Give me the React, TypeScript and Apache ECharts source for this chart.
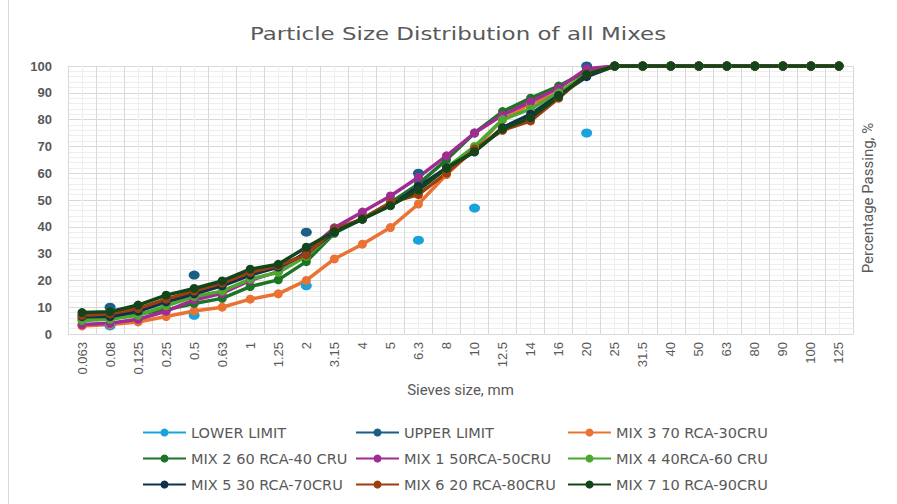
import React, { useEffect, useRef } from "react";
import * as echarts from "echarts";

const sieves = ["0.063","0.08","0.125","0.25","0.5","0.63","1","1.25","2","3.15","4","5","6.3","8","10","12.5","14","16","20","25","31.5","40","50","63","80","90","100","125"];

const lowerLimit = [null,3,null,null,7,null,null,null,18,null,null,null,35,null,47,null,null,null,75,null,null,null,null,null,null,null,null,null];
const upperLimit = [null,10,null,null,22,null,null,null,38,null,null,null,60,null,null,null,null,null,100,null,null,null,null,null,null,null,null,null];
const mix3 = [3,3.5,4.5,6.5,8.6,10,13,15,20,28,33.5,39.7,48.5,59.5,69,80,86,90,97,100,100,100,100,100,100,100,100,100];
const mix2 = [5.5,6,7.5,9,11.4,13.3,17.7,20.2,27,37.6,43,49,56,65,75,83,88,92.5,98,100,100,100,100,100,100,100,100,100];
const mix1 = [3.5,4,5.5,8.5,12.7,15.2,20,23.3,30.7,39.6,45.5,51.5,58.5,66.5,75,81.7,86.7,91.7,99,100,100,100,100,100,100,100,100,100];
const mix4 = [5,5.5,7,10.5,14,16,20.5,23,29,38,43,48,54,62,70,80,84,90,97,100,100,100,100,100,100,100,100,100];
const mix5 = [6.5,6.5,8.5,12,15,18,22,25,30,38,43,48,55,62,68,77,82,89,96,100,100,100,100,100,100,100,100,100];
const mix6 = [7,7.5,9.5,13,16,19,23,25.5,29.5,39,43,49,52,60,69,76,79.5,88,97,100,100,100,100,100,100,100,100,100];
const mix7 = [8,8.3,10.8,14.5,17,19.8,24.2,26,32.4,38.2,42.8,47.9,53.7,61.8,68,76.5,80.7,88.6,96.9,100,100,100,100,100,100,100,100,100];

const seriesDefs = [
  { name: "LOWER LIMIT", data: lowerLimit, color: "#1aa3db", limit: true },
  { name: "UPPER LIMIT", data: upperLimit, color: "#1b5f86", limit: true },
  { name: "MIX 3 70 RCA-30CRU", data: mix3, color: "#ea7233" },
  { name: "MIX 2 60 RCA-40 CRU", data: mix2, color: "#1d7326" },
  { name: "MIX 1 50RCA-50CRU", data: mix1, color: "#a02b93" },
  { name: "MIX 4 40RCA-60 CRU", data: mix4, color: "#4ea72e" },
  { name: "MIX 5 30 RCA-70CRU", data: mix5, color: "#12304c" },
  { name: "MIX 6 20 RCA-80CRU", data: mix6, color: "#9c3f10" },
  { name: "MIX 7 10 RCA-90CRU", data: mix7, color: "#12461a" },
];

const legendCols = [142, 355, 567];
const legendRows = [425, 451, 477];

export default function App() {
  const ref = useRef<HTMLDivElement>(null);
  useEffect(() => {
    if (!ref.current) return;
    const chart = echarts.init(ref.current, null, { renderer: "svg" });
    const textColor = "#595959";
    const legends = seriesDefs.map((s, i) => ({
      data: [s.name],
      left: legendCols[i % 3],
      top: legendRows[Math.floor(i / 3)],
      itemWidth: 43,
      itemHeight: 10,
      itemGap: 0,
      padding: 0,
      selectedMode: false,
      textStyle: { color: textColor, fontSize: 14.5, fontFamily: "DejaVu Sans", fontWeight: "normal" },
    }));
    chart.setOption({
      animation: false,
      backgroundColor: "#ffffff",
      legend: legends,
      grid: { left: 68, right: 44, top: 66, bottom: 170, containLabel: false },
      xAxis: [
        {
          type: "category",
          data: sieves,
          boundaryGap: true,
          name: "Sieves size, mm",
          nameLocation: "middle",
          nameGap: 44,
          nameTextStyle: { color: textColor, fontSize: 15, fontFamily: "Roboto" },
          axisLine: { show: true, lineStyle: { color: "#d9d9d9" } },
          axisTick: { show: false },
          axisLabel: { interval: 0, rotate: 90, color: textColor, fontSize: 13, fontFamily: "Liberation Sans", margin: 8 },
          splitLine: { show: true, lineStyle: { color: "#d9d9d9", width: 1 } },
          z: 3,
        },
        {
          type: "value",
          min: 0,
          max: 28,
          interval: 0.5,
          show: true,
          axisLine: { show: false },
          axisTick: { show: false },
          axisLabel: { show: false },
          splitLine: { show: true, lineStyle: { color: "#eeeeee", width: 1 } },
          position: "bottom",
          z: 1,
        },
      ],
      yAxis: [
        {
          type: "value",
          min: 0,
          max: 100,
          interval: 10,
          axisLine: { show: false },
          axisTick: { show: false },
          axisLabel: { color: textColor, fontSize: 13, fontWeight: "bold", fontFamily: "Liberation Sans", margin: 16 },
          splitLine: { show: true, lineStyle: { color: "#d9d9d9" } },
          minorTick: { show: false, splitNumber: 5 },
          minorSplitLine: { show: true, lineStyle: { color: "#eeeeee" } },
        },
      ],
      graphic: [
        { type: "line", shape: { x1: 8.5, y1: 0, x2: 8.5, y2: 504 }, style: { stroke: "#d9d9d9", lineWidth: 1 } },
        {
          type: "text",
          x: 458,
          y: 34,
          scaleX: 1.35,
          style: {
            text: "Particle Size Distribution of all Mixes",
            fill: textColor,
            fontSize: 17,
            fontFamily: "DejaVu Sans",
            align: "center",
            verticalAlign: "middle",
          },
        },
        {
          type: "text",
          x: 868,
          y: 198,
          rotation: Math.PI / 2,
          style: {
            text: "Percentage Passing, %",
            fill: textColor,
            fontSize: 15,
            fontFamily: "Roboto",
            align: "center",
            verticalAlign: "middle",
          },
        },
      ],
      series: seriesDefs.map((s) => ({
        name: s.name,
        type: "line",
        xAxisIndex: 0,
        yAxisIndex: 0,
        data: s.data,
        connectNulls: false,
        symbol: "circle",
        symbolSize: s.limit ? [11, 9] : 9,
        showSymbol: true,
        itemStyle: { color: s.color },
        lineStyle: { color: s.color, width: 3.5 },
        emphasis: { disabled: true },
      })),
    });
    return () => chart.dispose();
  }, []);
  return <div ref={ref} style={{ position: "fixed", left: 0, top: 0, width: 897, height: 504 }} />;
}
